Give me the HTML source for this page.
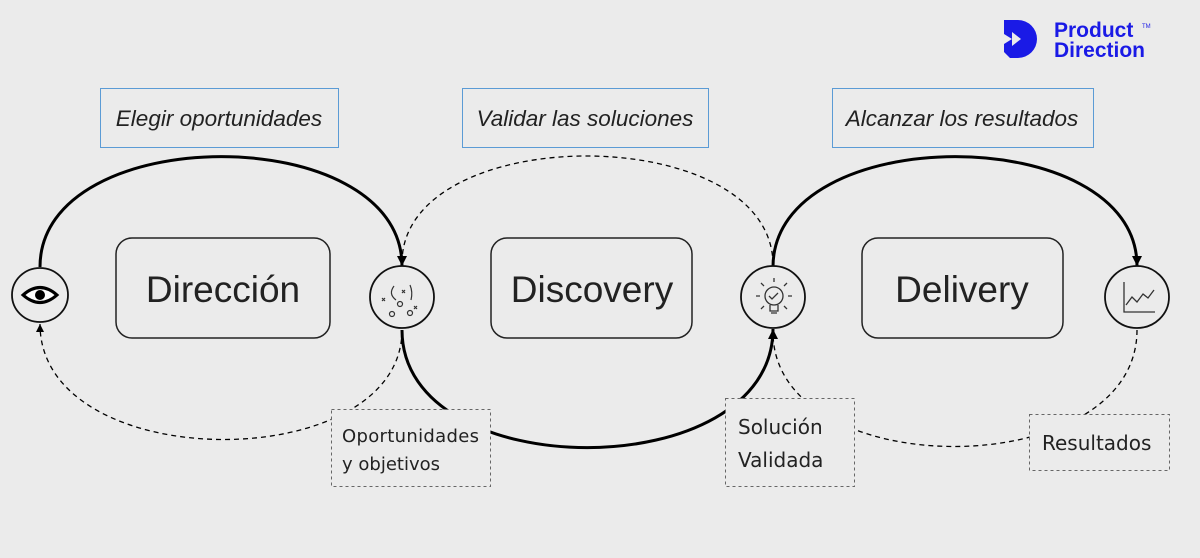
<!DOCTYPE html>
<html><head><meta charset="utf-8"><style>
html,body{margin:0;padding:0;background:#ebebeb;}
svg{display:block;font-family:"Liberation Sans","DejaVu Sans",sans-serif;}
</style></head><body>
<svg width="1200" height="558" viewBox="0 0 1200 558">
<defs>
<marker id="a" markerWidth="12" markerHeight="12" refX="10" refY="5" orient="auto" markerUnits="userSpaceOnUse"><path d="M0,0 L10,5 L0,10 z" fill="#000"/></marker>
<marker id="b" markerWidth="10" markerHeight="10" refX="8" refY="4" orient="auto" markerUnits="userSpaceOnUse"><path d="M0,0 L8,4 L0,8 z" fill="#000"/></marker>
</defs>
<rect width="1200" height="558" fill="#ebebeb"/>
<path d="M1004,20 h14 a19,19 0 0 1 0,38 h-8 l-6,-6 v-8 l8,-5 l-8,-5 z" fill="#1a1ae6"/>
<path d="M1012,32 l9,7 l-9,7 z" fill="#ebebeb"/>
<text x="1054" y="37" font-size="21" font-weight="bold" fill="#1a1ae6">Product</text>
<text x="1054" y="57" font-size="21" font-weight="bold" fill="#1a1ae6">Direction</text>
<text x="1142" y="28" font-size="6" fill="#1a1ae6">TM</text>
<path d="M40,267 C40,120 402,120 402,266" fill="none" stroke="#000" stroke-width="3" marker-end="url(#a)"/>
<path d="M402,263 C402,120 773,120 773,265" fill="none" stroke="#000" stroke-width="1.3" stroke-dasharray="5,4"/>
<path d="M773,267 C773,120 1137,120 1137,266" fill="none" stroke="#000" stroke-width="3" marker-end="url(#a)"/>
<path d="M402,330 C402,477 40,477 40,324" fill="none" stroke="#000" stroke-width="1.3" stroke-dasharray="5,4" marker-end="url(#b)"/>
<path d="M402,330 C402,487 773,487 773,329" fill="none" stroke="#000" stroke-width="3" marker-end="url(#a)"/>
<path d="M1137,330 C1137,485 773,485 773,332" fill="none" stroke="#000" stroke-width="1.3" stroke-dasharray="5,4"/>
<g fill="#ebebeb" stroke="#5b9bd5" stroke-width="1">
<rect x="100.5" y="88.5" width="238" height="59"/>
<rect x="462.5" y="88.5" width="246" height="59"/>
<rect x="832.5" y="88.5" width="261" height="59"/>
</g>
<g font-size="22.5" font-style="italic" fill="#222" text-anchor="middle">
<text x="219" y="126">Elegir oportunidades</text>
<text x="585" y="126">Validar las soluciones</text>
<text x="962" y="126">Alcanzar los resultados</text>
</g>
<g fill="#ebebeb" stroke="#222" stroke-width="1.5">
<rect x="116" y="238" width="214" height="100" rx="16"/>
<rect x="491" y="238" width="201" height="100" rx="16"/>
<rect x="862" y="238" width="201" height="100" rx="16"/>
</g>
<g font-size="37" fill="#222" text-anchor="middle">
<text x="223" y="302">Dirección</text>
<text x="592" y="302">Discovery</text>
<text x="962" y="302">Delivery</text>
</g>
<g fill="#ebebeb" stroke="#111" stroke-width="1.8">
<ellipse cx="40" cy="295" rx="28" ry="27"/>
<ellipse cx="402" cy="297" rx="32" ry="31"/>
<ellipse cx="773" cy="297" rx="32" ry="31"/>
<ellipse cx="1137" cy="297" rx="32" ry="31"/>
</g>
<path d="M23,295 Q40,280 57,295 Q40,310 23,295 z" fill="#fff" stroke="#000" stroke-width="3"/>
<circle cx="40" cy="295" r="5" fill="#000"/>
<g stroke="#333" stroke-width="1.2" fill="none">
<path d="M394,286 q-6,8 2,14"/><path d="M411,300 q2,-8 -1,-15"/>
<circle cx="400" cy="304" r="2.5"/><circle cx="392" cy="314" r="2.5"/><circle cx="410" cy="313" r="2.5"/>
<path d="M382,298 l3,3 M385,298 l-3,3 M402,290 l3,3 M405,290 l-3,3 M414,306 l3,3 M417,306 l-3,3"/>
</g>
<g stroke="#333" stroke-width="1.3" fill="none">
<circle cx="774" cy="296" r="9"/><path d="M769,296 l3,3 l6,-6"/>
<path d="M770,305 v6 h8 v-6 M771,313 h6"/>
<path d="M774,282 v-4 M760,296 h-4 M788,296 h4 M764,286 l-3,-3 M784,286 l3,-3 M764,306 l-3,3 M784,306 l3,3"/>
</g>
<g stroke="#333" stroke-width="1.3" fill="none">
<path d="M1124,282 v30 h31"/>
<path d="M1126,305 l6,-8 l5,5 l6,-8 l5,4 l6,-8"/>
</g>
<g fill="#ebebeb" stroke="#666" stroke-width="1" stroke-dasharray="3,3">
<rect x="331.5" y="409.5" width="159" height="77"/>
<rect x="725.5" y="398.5" width="129" height="88"/>
<rect x="1029.5" y="414.5" width="140" height="56"/>
</g>
<g font-size="18" fill="#222" font-family="DejaVu Sans, sans-serif">
<text x="342" y="442" textLength="137">Oportunidades</text>
<text x="342" y="470">y objetivos</text>
<text x="738" y="434" font-size="20">Solución</text>
<text x="738" y="467" font-size="20">Validada</text>
<text x="1042" y="450" font-size="20">Resultados</text>
</g>
</svg>
</body></html>
